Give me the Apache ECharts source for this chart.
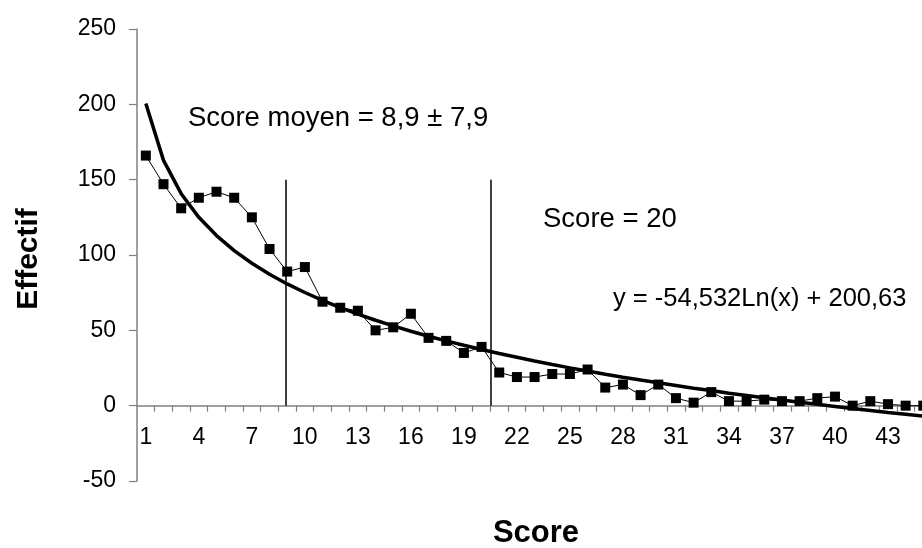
<!DOCTYPE html>
<html>
<head>
<meta charset="utf-8">
<script src="https://cdn.jsdelivr.net/npm/echarts@6/dist/echarts.min.js"></script>
<style>
html,body{margin:0;padding:0;background:#fff;}
#chart{width:922px;height:548px;}
</style>
</head>
<body>
<div id="chart"></div>
<script>
const scores = [1,2,3,4,5,6,7,8,9,10,11,12,13,14,15,16,17,18,19,20,21,22,23,24,25,26,27,28,29,30,31,32,33,34,35,36,37,38,39,40,41,42,43,44,45];
const effectifs = [166,147,131,138,142,138,125,104,89,92,69,65,63,50,52,61,45,43,35,39,22,19,19,21,21,24,12,14,7,14,5,2,9,3,3,4,3,3,5,6,0,3,1,0,0];
const trendValues = [200.6,162.8,140.7,125.0,112.9,102.9,94.5,87.2,80.8,75.1,69.9,65.1,60.8,56.7,53.0,49.4,46.1,43.0,40.1,37.3,34.6,32.1,29.6,27.3,25.1,23.0,20.9,18.9,17.0,15.2,13.4,11.6,10.0,8.3,6.8,5.2,3.7,2.3,0.9,-0.5,-1.9,-3.2,-4.5,-5.7,-7.0];
const xTickLabels = [1,4,7,10,13,16,19,22,25,28,31,34,37,40,43];
const yTickLabels = [-50,0,50,100,150,200,250];
const meanScore = 8.9;
const cutoffScore = 20.5;
const markerTop = 150;

const chart = echarts.init(document.getElementById('chart'), null, {renderer: 'canvas'});
const FONT = '"Liberation Sans", Arial, sans-serif';
const axisGray = '#808080';

const W = 922, gridLeft = 137, bandPx = 17.67;
const gridTop = 29, gridBottom = 67, chartH = 548;
const yMin = yTickLabels[0], yMax = yTickLabels[yTickLabels.length - 1];
const plotH = chartH - gridTop - gridBottom;
const zeroOffset = plotH * (0 - yMin) / (yMax - yMin);
const xMin = scores[0] - 0.5;
// the plot is cut off by the right edge of the picture
const xMax = xMin + (W - gridLeft) / bandPx;

const pointData = scores.map((s, i) => [s, effectifs[i]]);
const trendData = scores.map((s, i) => [s, trendValues[i]]);
const tickPositions = scores.map(s => s + 0.5).filter(v => v <= xMax);

const option = {
  animation: false,
  backgroundColor: '#ffffff',
  grid: {left: gridLeft, right: 0, top: gridTop, bottom: gridBottom, containLabel: false},
  xAxis: {
    type: 'value',
    position: 'bottom',
    offset: -zeroOffset,
    min: xMin,
    max: xMax,
    splitLine: {show: false},
    axisLine: {show: true, onZero: false, lineStyle: {color: axisGray, width: 1.5}},
    axisTick: {show: true, inside: false, length: 6, customValues: tickPositions, lineStyle: {color: axisGray, width: 1.2}},
    axisLabel: {show: true, customValues: xTickLabels, margin: 20, color: '#000', fontSize: 23, fontFamily: FONT}
  },
  yAxis: {
    type: 'value',
    min: yMin,
    max: yMax,
    interval: 50,
    splitLine: {show: false},
    axisLine: {show: true, onZero: false, lineStyle: {color: axisGray, width: 1.5}},
    axisTick: {show: true, inside: false, length: 8, lineStyle: {color: axisGray, width: 1.2}},
    axisLabel: {margin: 21, color: '#000', fontSize: 23, fontFamily: FONT}
  },
  series: [
    {
      name: 'Tendance',
      type: 'line',
      data: trendData,
      clip: false,
      showSymbol: false,
      symbol: 'none',
      smooth: false,
      lineStyle: {color: '#000', width: 3.5},
      z: 2
    },
    {
      name: 'Effectif',
      type: 'line',
      data: pointData,
      clip: false,
      symbol: 'rect',
      symbolSize: 10,
      itemStyle: {color: '#000'},
      lineStyle: {color: '#000', width: 1},
      z: 3,
      markLine: {
        silent: true,
        symbol: ['none', 'none'],
        label: {show: false},
        lineStyle: {color: '#000', width: 1.5, type: 'solid'},
        data: [
          [{coord: [meanScore, markerTop]}, {coord: [meanScore, 0]}],
          [{coord: [cutoffScore, markerTop]}, {coord: [cutoffScore, 0]}]
        ]
      }
    }
  ],
  graphic: [
    {type: 'text', x: 29, y: 259, rotation: Math.PI / 2,
     style: {text: 'Effectif', font: 'bold 30px ' + FONT, fill: '#000', align: 'center', verticalAlign: 'middle', textAlign: 'center', textVerticalAlign: 'middle'}},
    {type: 'text', x: 536, y: 533,
     style: {text: 'Score', font: 'bold 31px ' + FONT, fill: '#000', align: 'center', verticalAlign: 'middle', textAlign: 'center', textVerticalAlign: 'middle'}},
    {type: 'text', x: 188, y: 118,
     style: {text: 'Score moyen = 8,9 ± 7,9', font: '27.5px ' + FONT, fill: '#000', align: 'left', verticalAlign: 'middle', textAlign: 'left', textVerticalAlign: 'middle'}},
    {type: 'text', x: 543, y: 219,
     style: {text: 'Score = 20', font: '27.5px ' + FONT, fill: '#000', align: 'left', verticalAlign: 'middle', textAlign: 'left', textVerticalAlign: 'middle'}},
    {type: 'text', x: 613, y: 299,
     style: {text: 'y = -54,532Ln(x) + 200,63', font: '25.5px ' + FONT, fill: '#000', align: 'left', verticalAlign: 'middle', textAlign: 'left', textVerticalAlign: 'middle'}}
  ]
};
chart.setOption(option);
</script>
</body>
</html>
